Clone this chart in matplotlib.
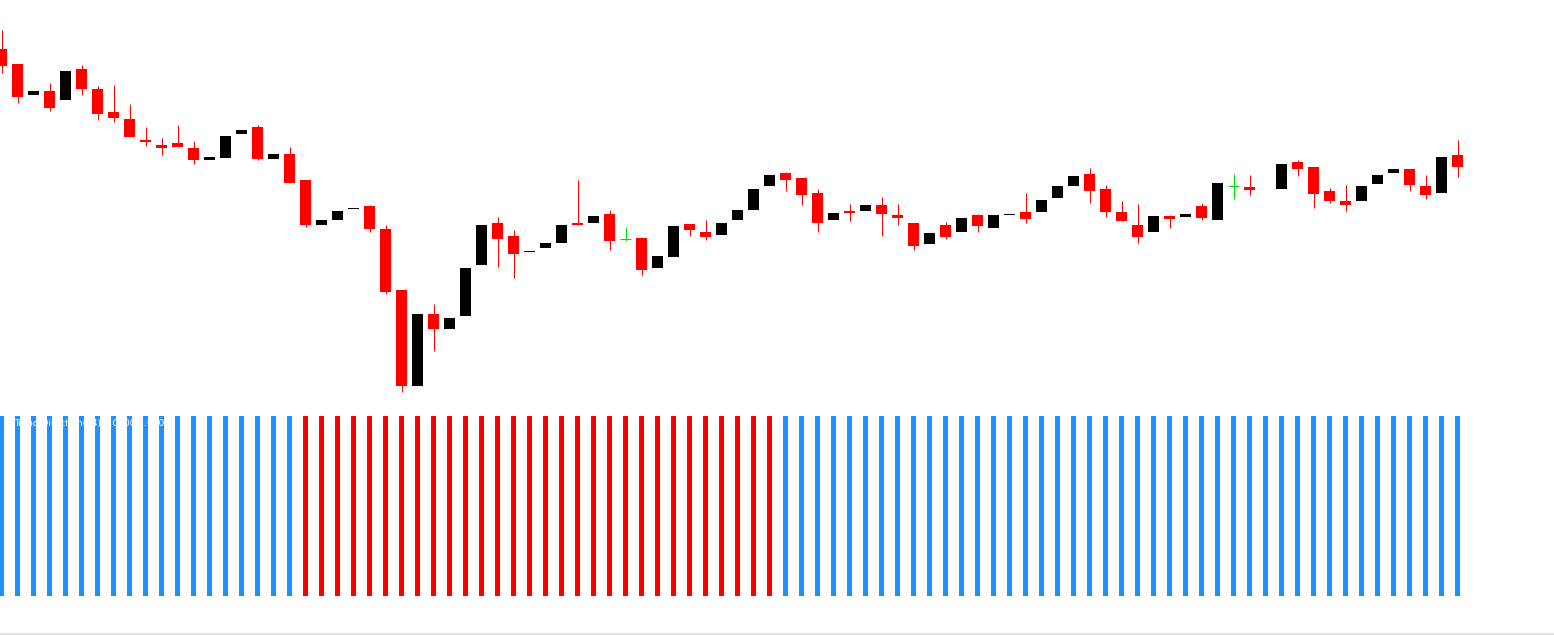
import numpy as np
import matplotlib.pyplot as plt
from matplotlib.lines import Line2D

# OHLC data (price units), one candle per bar; NaN = missing candle
opens = [1351, 1336, 1305, 1309, 1300, 1331, 1311, 1288, 1281, 1260,
         1255, 1257, 1252, 1240.3, 1242.3, 1266.3, 1273, 1241.3, 1246, 1220,
         1175.3, 1180, 1191.3, 1194, 1171, 1110, 1014.3, 1086, 1071.3, 1084.3,
         1135.3, 1177, 1164, 1148.3, 1152.3, 1157.3, 1177.3, 1177.3, 1186, 1160.7,
         1162, 1132.3, 1143.3, 1176, 1168, 1165.3, 1180.3, 1190.3, 1214.3, 1227,
         1222, 1207, 1180.3, 1189, 1189.3, 1195, 1185, 1177, 1156.3, 1175,
         1168.3, 1185, 1172.3, 1185.3, 1188, 1188.3, 1202.3, 1214.3, 1226, 1211,
         1188, 1175, 1168.3, 1184, 1183.3, 1194, 1180.3, 1213.7, 1213, np.nan,
         1211.3, 1238, 1233, 1209, 1199.3, 1199.3, 1216.3, 1227.3, 1231, 1214,
         1207.3, 1245]
closes = [1334.3, 1303.3, 1309, 1292.3, 1329, 1311.3, 1286.3, 1282.3, 1263.3, 1258.3,
          1252.3, 1253.3, 1240.3, 1243, 1264, 1270, 1241.3, 1246, 1217.3, 1175.3,
          1180, 1189, 1192, 1171.3, 1108.3, 1014.3, 1086, 1071.3, 1082, 1132,
          1175, 1161.3, 1146.3, 1149, 1157, 1175, 1175.3, 1184, 1159.3, 1160.7,
          1130.3, 1144, 1174, 1170.3, 1163.3, 1177, 1190, 1211, 1225, 1220.3,
          1205.3, 1177.3, 1187, 1187.3, 1195, 1186.3, 1182.3, 1154.3, 1167, 1163.3,
          1182, 1174.3, 1185, 1186, 1181.3, 1200, 1214, 1224, 1209.3, 1188.3,
          1179.3, 1163.3, 1184, 1181.3, 1186, 1182.3, 1217, 1213.7, 1210.3, np.nan,
          1236, 1231.3, 1206.3, 1199.3, 1195.3, 1214, 1225, 1231, 1215.3, 1205.3,
          1243, 1233.3]
highs = [1370, 1336, 1309, 1317, 1329, 1335, 1314, 1315, 1296, 1273,
         1262, 1275, 1259, 1243, 1264, 1270, 1275, 1246, 1253, 1220,
         1180, 1189, 1192, 1195.3, 1175, 1110, 1086, 1096, 1082, 1132,
         1175, 1183, 1170, 1149, 1157, 1175, 1220, 1184, 1190, 1173,
         1162, 1144, 1174, 1176, 1180, 1177, 1190, 1211, 1225, 1228,
         1222, 1211, 1187, 1196, 1195, 1203, 1196, 1177, 1167, 1178,
         1182, 1186, 1185, 1186, 1207, 1200, 1214, 1224, 1232, 1215,
         1199, 1196, 1184, 1185, 1186, 1197, 1217, 1226, 1225, np.nan,
         1236, 1240, 1233, 1212, 1215, 1214, 1225, 1231, 1231, 1225,
         1243, 1260]
lows = [1327.3, 1297.3, 1305, 1289.3, 1300, 1305.3, 1280.3, 1278.3, 1263.3, 1254.3,
        1245.3, 1253.3, 1236.3, 1240.3, 1242.3, 1266.3, 1240.3, 1241.3, 1217.3, 1173.3,
        1175.3, 1180, 1191.3, 1168.3, 1106, 1008.3, 1014.3, 1049.3, 1071.3, 1084.3,
        1135.3, 1133.3, 1122.3, 1148.3, 1152.3, 1157.3, 1175.3, 1177.3, 1150.3, 1159.3,
        1125.3, 1132.3, 1143.3, 1164.3, 1160.3, 1165.3, 1180.3, 1190.3, 1214.3, 1209.3,
        1195.3, 1168.3, 1180.3, 1179.3, 1189.3, 1164.3, 1175.3, 1150.3, 1156.3, 1161.3,
        1168.3, 1168.3, 1172.3, 1185.3, 1177.3, 1188.3, 1202.3, 1214.3, 1197.3, 1183.3,
        1179.3, 1157.3, 1168.3, 1172.3, 1183.3, 1180.3, 1180.3, 1201.3, 1205.3, np.nan,
        1211.3, 1224.3, 1192.3, 1197.3, 1189.3, 1199.3, 1216.3, 1227.3, 1209.3, 1201.3,
        1207.3, 1223.3]

# trend indicator: 1 = up (blue), -1 = down (red)
trend = [1] * 19 + [-1] * 30 + [1] * 43

o = np.array(opens, dtype=float)
c = np.array(closes, dtype=float)
h = np.array(highs, dtype=float)
l = np.array(lows, dtype=float)
x = np.arange(len(o))
tr = np.array(trend)

fig = plt.figure(figsize=(15.54, 6.35), dpi=100)
ax = fig.add_axes([0, 235 / 635, 1, 400 / 635])
ax2 = fig.add_axes([0, 39 / 635, 1, 180 / 635])

xlim = (-1.5 / 16, (1554 - 1.5) / 16)

# candles
ok = ~np.isnan(o)
bear = ok & (c < o)
bull = ok & (c > o)
doji = ok & (c == o)

lw = 0.72
ax.vlines(x[bear], l[bear], h[bear], color='red', lw=lw)
ax.bar(x[bear], (o - c)[bear], bottom=c[bear], width=11 / 16,
       color='red', linewidth=0)
ax.bar(x[bull], (c - o)[bull], bottom=o[bull], width=11 / 16,
       color='black', linewidth=0)
ax.vlines(x[doji], l[doji], h[doji], color='#00e000', lw=lw)
ax.hlines(c[doji], x[doji] - 5.5 / 16, x[doji] + 5.5 / 16, color='#00e000', lw=lw)

ax.set_xlim(*xlim)
ax.set_ylim(1000, 1400)
ax.axis('off')

# trend histogram
cols = np.where(tr > 0, '#1e90ff', 'red')
ax2.bar(x, np.ones(len(x)), width=5 / 16, color=cols, linewidth=0)
ax2.set_xlim(*xlim)
ax2.set_ylim(0, 1)
ax2.axis('off')
ax2.text(0.009, 0.985, 'Trend Direction(14) 1.0000 1.0000', transform=ax2.transAxes,
         color='white', fontsize=6.5, va='top', ha='left')

fig.add_artist(Line2D([0, 1], [1.5 / 635, 1.5 / 635], transform=fig.transFigure,
                      color='#e0e0e0', lw=1.5))

fig.savefig('out.png', dpi=100, facecolor='white')
